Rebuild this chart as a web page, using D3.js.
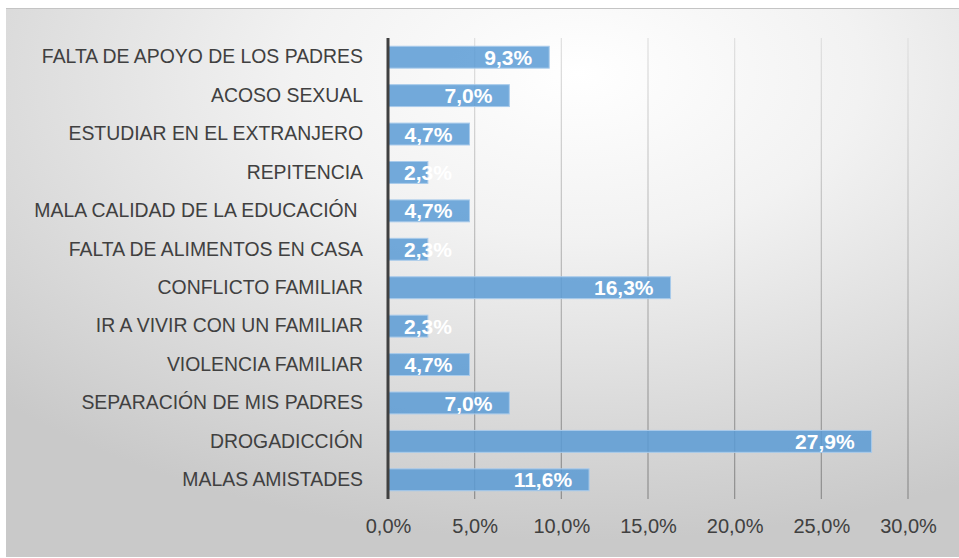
<!DOCTYPE html>
<html>
<head>
<meta charset="utf-8">
<script src="https://cdn.jsdelivr.net/npm/d3@7"></script>
<style>
  body { margin: 0; background: #fff; }
  svg { display: block; }
  text { font-family: "Liberation Sans", Arial, sans-serif; }
</style>
</head>
<body>
<svg id="chart" width="959" height="558"></svg>
<script>
const categories = [
  "FALTA DE APOYO DE LOS PADRES",
  "ACOSO SEXUAL",
  "ESTUDIAR EN EL EXTRANJERO",
  "REPITENCIA",
  "MALA CALIDAD DE LA EDUCACIÓN ",
  "FALTA DE ALIMENTOS EN CASA",
  "CONFLICTO FAMILIAR",
  "IR A VIVIR CON UN FAMILIAR",
  "VIOLENCIA FAMILIAR",
  "SEPARACIÓN DE MIS PADRES",
  "DROGADICCIÓN",
  "MALAS AMISTADES"
];
const values = [9.3, 7.0, 4.7, 2.3, 4.7, 2.3, 16.3, 2.3, 4.7, 7.0, 27.9, 11.6];
const ticks = [0, 5, 10, 15, 20, 25, 30];

const svg = d3.select("#chart");
const margin = { top: 38, left: 388, right: 51, bottom: 59 };
const width = +svg.attr("width"), height = +svg.attr("height");

const pct = v => d3.format(".1f")(v).replace(".", ",") + "%";

// background
const defs = svg.append("defs");
const bg = defs.append("radialGradient").attr("id", "bg")
  .attr("cx", "0.6").attr("cy", "0.12").attr("r", "0.85");
bg.append("stop").attr("offset", "0").attr("stop-color", "#ffffff");
bg.append("stop").attr("offset", "0.35").attr("stop-color", "#f2f2f2");
bg.append("stop").attr("offset", "1").attr("stop-color", "#c9c9c9");

const grid = defs.append("linearGradient").attr("id", "grid")
  .attr("gradientUnits", "userSpaceOnUse")
  .attr("x1", 0).attr("y1", margin.top).attr("x2", 0).attr("y2", height - margin.bottom);
grid.append("stop").attr("offset", "0").attr("stop-color", "#e0e0e0");
grid.append("stop").attr("offset", "1").attr("stop-color", "#8c8c8c");

svg.append("rect")
  .attr("x", 6).attr("y", 8).attr("width", width - 6).attr("height", 549)
  .attr("fill", "url(#bg)");
svg.append("line")
  .attr("x1", 6).attr("x2", width).attr("y1", 8.5).attr("y2", 8.5)
  .attr("stroke", "#c4c4c4");

const x = d3.scaleLinear().domain([0, 30]).range([margin.left, width - margin.right]);
const y = d3.scaleBand().domain(categories)
  .range([margin.top, height - margin.bottom]).paddingInner(0.43).paddingOuter(0.215);

// gridlines
svg.append("g").selectAll("line")
  .data(ticks.slice(1))
  .join("line")
  .attr("x1", d => x(d)).attr("x2", d => x(d))
  .attr("y1", margin.top).attr("y2", height - margin.bottom)
  .attr("stroke", "url(#grid)").attr("stroke-width", 1.2);

// x axis labels
const xAxis = d3.axisBottom(x).tickValues(ticks).tickFormat(pct).tickSize(0).tickPadding(0);
svg.append("g")
  .attr("transform", `translate(0,${height - margin.bottom + 20})`)
  .call(xAxis)
  .call(g => g.select(".domain").remove())
  .selectAll("text")
  .attr("fill", "#404040").attr("font-size", 20).attr("dy", "0.71em");

// bars
svg.append("g").selectAll("rect")
  .data(values)
  .join("rect")
  .attr("x", x(0))
  .attr("y", (d, i) => y(categories[i]))
  .attr("width", d => x(d) - x(0))
  .attr("height", y.bandwidth())
  .attr("fill", "#5b9bd5").attr("fill-opacity", 0.85)
  .attr("stroke", "#a9cbeb").attr("stroke-width", 1);

// category labels
const yAxis = d3.axisLeft(y).tickSize(0).tickPadding(25);
svg.append("g")
  .attr("transform", `translate(${margin.left},0)`)
  .call(yAxis)
  .call(g => g.select(".domain").remove())
  .selectAll("text")
  .attr("fill", "#404040").attr("font-size", 19.4)
  .style("white-space", "pre");

// vertical axis line
svg.append("line")
  .attr("x1", x(0)).attr("x2", x(0))
  .attr("y1", margin.top).attr("y2", height - margin.bottom)
  .attr("stroke", "#404040").attr("stroke-width", 3);

// data labels
svg.append("g").selectAll("text")
  .data(values)
  .join("text")
  .attr("y", (d, i) => y(categories[i]) + y.bandwidth() / 2)
  .attr("dy", "0.36em")
  .attr("text-anchor", "end")
  .attr("fill", "#ffffff").attr("font-weight", "bold").attr("font-size", 21)
  .text(pct)
  .attr("x", function (d) {
    const w = this.getComputedTextLength();
    return Math.max(x(d) - 17, x(0) + 16 + w);
  });
</script>
</body>
</html>
